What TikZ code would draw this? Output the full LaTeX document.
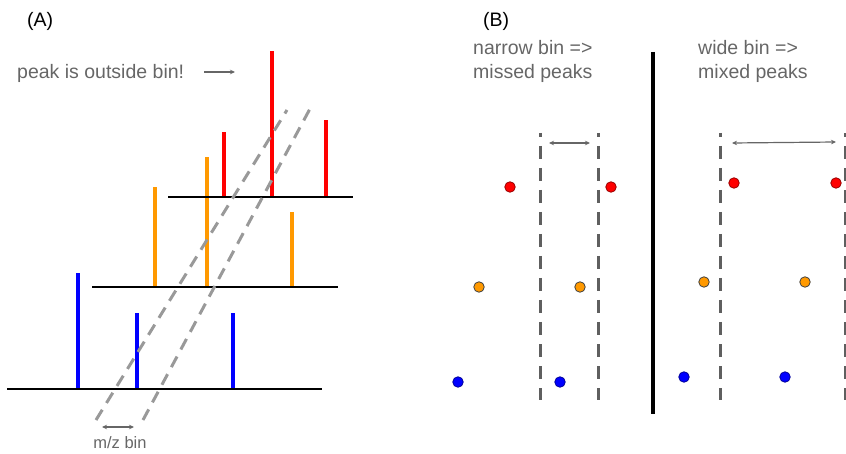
\documentclass[tikz,border=0pt]{standalone}
\usepackage{fontspec}
\setmainfont{Liberation Sans}
\usetikzlibrary{arrows.meta}

\definecolor{pkred}{HTML}{FF0000}
\definecolor{pkorange}{HTML}{FF9900}
\definecolor{pkblue}{HTML}{0000FF}
\definecolor{txtgrey}{HTML}{666666}
\definecolor{bingrey}{HTML}{999999}
\definecolor{edgegrey}{HTML}{5F5F5F}

\tikzset{
  axisline/.style={line width=2pt, black},
  peakline/.style={line width=3.6pt},
  slantbin/.style={line width=3pt, bingrey, dash pattern=on 12pt off 8pt},
  binedge/.style={line width=3pt, edgegrey, dash pattern=on 13pt off 9pt},
  label/.style={font=\fontsize{19.5}{24}\selectfont, text=txtgrey, inner sep=0pt, anchor=base west, align=left},
  panel/.style={font=\fontsize{19.5}{24}\selectfont, inner sep=0pt, anchor=base west},
  smallarrow/.style={line width=1.2pt, txtgrey, -{Stealth[length=5pt,width=4.5pt]}},
  dblarrow/.style={line width=1.2pt, txtgrey, {Stealth[length=5pt,width=4.5pt]}-{Stealth[length=5pt,width=4.5pt]}},
  dot/.style={circle, inner sep=0pt, minimum size=10.5pt, line width=0.8pt},
}

\begin{document}
\begin{tikzpicture}[x=1pt, y=-1pt]
\useasboundingbox (0,0) rectangle (846,454);

% ---------------- panel A: stacked spectra ----------------
\node[panel] (labA) at (27,27) {(A)};
\node[label] (note) at (17,79) {peak is outside bin!};
\coordinate (noteS) at (204,72);
\coordinate (noteE) at (235,72);
\draw[smallarrow] (noteS) -- (noteE);

% spectrum axes
\coordinate (bA) at (7,389);   \coordinate (bB) at (322,389);
\coordinate (oA) at (92,287);  \coordinate (oB) at (338,287);
\coordinate (rA) at (168,197); \coordinate (rB) at (353,197);

% peaks
\draw[peakline, pkblue] (78,389) -- (78,273);
\draw[peakline, pkblue] (137,389) -- (137,313);
\draw[peakline, pkblue] (233,389) -- (233,313);

\draw[peakline, pkorange] (155,287) -- (155,187);
\draw[peakline, pkorange] (207,287) -- (207,157);
\draw[peakline, pkorange] (292,287) -- (292,212);

\draw[peakline, pkred] (224,197) -- (224,132);
\draw[peakline, pkred] (272,197) -- (272,51);
\draw[peakline, pkred] (326,197) -- (326,120);

\draw[axisline] (bA) -- (bB);
\draw[axisline] (oA) -- (oB);
\draw[axisline] (rA) -- (rB);

% slanted m/z bin
\coordinate (s1a) at (96,420);  \coordinate (s1b) at (287,110);
\coordinate (s2a) at (143,420); \coordinate (s2b) at (312,105);
\draw[slantbin] (s1a) -- (s1b);
\draw[slantbin] (s2a) -- (s2b);

\coordinate (mzL) at (102,427);
\coordinate (mzR) at (134,427);
\draw[dblarrow] (mzL) -- (mzR);
\node[font=\fontsize{16.5}{20}\selectfont, text=txtgrey, inner sep=0pt, anchor=base] (mz) at (120,448) {m/z bin};

% ---------------- panel B: narrow vs wide bins ----------------
\node[panel] (labB) at (483,27) {(B)};
\node[label] (narrow) at (473,79) {narrow bin =>\\missed peaks};
\node[label] (wide) at (698,79) {wide bin =>\\mixed peaks};

\coordinate (divT) at (653,52);
\coordinate (divB) at (653,414);
\draw[line width=4.5pt, black] (divT) -- (divB);

% bin edges
\coordinate (n1t) at (540.5,133); \coordinate (n1b) at (540.5,400);
\coordinate (n2t) at (598,133);   \coordinate (n2b) at (598,400);
\coordinate (w1t) at (720.5,133); \coordinate (w1b) at (720.5,400);
\coordinate (w2t) at (845,133);   \coordinate (w2b) at (845,400);
\draw[binedge, dash phase=9pt] (n1t) -- (n1b);
\draw[binedge, dash phase=9pt] (n2t) -- (n2b);
\draw[binedge, dash phase=9pt] (w1t) -- (w1b);
\draw[binedge, dash phase=9pt] (w2t) -- (w2b);

\coordinate (naL) at (549,143); \coordinate (naR) at (590,143);
\draw[dblarrow] (naL) -- (naR);
\coordinate (waL) at (732,143); \coordinate (waR) at (836,142);
\draw[dblarrow] (waL) -- (waR);

% peak positions
\node[dot, fill=pkred, draw=red!60!black]       (nr1) at (510,187) {};
\node[dot, fill=pkred, draw=red!60!black]       (nr2) at (611,187) {};
\node[dot, fill=pkorange, draw=black!75]        (no1) at (479,287) {};
\node[dot, fill=pkorange, draw=black!75]        (no2) at (580,287) {};
\node[dot, fill=pkblue, draw=blue!60!black]     (nb1) at (458,382) {};
\node[dot, fill=pkblue, draw=blue!60!black]     (nb2) at (560,382) {};

\node[dot, fill=pkred, draw=red!60!black]       (wr1) at (734,183) {};
\node[dot, fill=pkred, draw=red!60!black]       (wr2) at (836,183) {};
\node[dot, fill=pkorange, draw=black!75]        (wo1) at (704,282) {};
\node[dot, fill=pkorange, draw=black!75]        (wo2) at (805,282) {};
\node[dot, fill=pkblue, draw=blue!60!black]     (wb1) at (684,377) {};
\node[dot, fill=pkblue, draw=blue!60!black]     (wb2) at (785,377) {};
\end{tikzpicture}
\end{document}
